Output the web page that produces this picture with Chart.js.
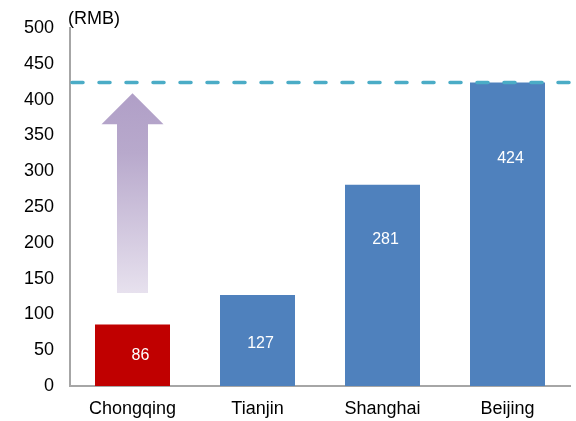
<!DOCTYPE html>
<html>
<head>
<meta charset="utf-8">
<script src="https://cdn.jsdelivr.net/npm/chart.js@4/dist/chart.umd.min.js"></script>
<style>
  html, body { margin: 0; padding: 0; background: #fff; overflow: hidden; }
  canvas { display: block; }
</style>
</head>
<body>
<canvas id="c" width="576" height="421"></canvas>
<script>
const cities = ['Chongqing', 'Tianjin', 'Shanghai', 'Beijing'];
const wages = [86, 127, 281, 424];
const barColors = ['#c00000', '#4f81bd', '#4f81bd', '#4f81bd'];
const yTicks = [0, 50, 100, 150, 200, 250, 300, 350, 400, 450, 500];
const targetLevel = 424;          // dashed reference line
const arrowRange = [130, 409];    // arrow from base to tip (RMB)
const unitLabel = '(RMB)';

const FONT = '"Liberation Sans", Arial, sans-serif';

// value labels, drawn inside each bar in white
const labelPlugin = {
  id: 'barLabels',
  afterDatasetsDraw(chart) {
    const ctx = chart.ctx;
    const meta = chart.getDatasetMeta(0);
    const y = chart.scales.y;
    const frac = [0.50, 0.47, 0.73, 0.75];
    ctx.save();
    ctx.fillStyle = '#ffffff';
    ctx.font = '16px ' + FONT;
    ctx.textAlign = 'center';
    ctx.textBaseline = 'middle';
    meta.data.forEach((bar, i) => {
      const v = wages[i];
      ctx.fillText(String(v), bar.x + (i === 0 ? 8 : 3), y.getPixelForValue(v * frac[i]));
    });
    ctx.restore();
  }
};

// dashed target line, growth arrow and unit caption
const decorPlugin = {
  id: 'decor',
  afterDraw(chart) {
    const ctx = chart.ctx;
    const { left, right } = chart.chartArea;
    const y = chart.scales.y;
    const x = chart.scales.x;

    // dashed line
    const ly = y.getPixelForValue(targetLevel);
    ctx.save();
    ctx.strokeStyle = '#4bacc6';
    ctx.lineWidth = 3.5;
    ctx.lineCap = 'round';
    ctx.setLineDash([11, 16]);
    ctx.beginPath();
    ctx.moveTo(left + 2, ly);
    ctx.lineTo(right, ly);
    ctx.stroke();
    ctx.restore();

    // arrow above the first bar
    const cx = x.getPixelForValue(0);
    const yb = y.getPixelForValue(arrowRange[0]);
    const yt = y.getPixelForValue(arrowRange[1]);
    const headH = 31, headHalf = 31, shaftHalf = 15.5;
    const g = ctx.createLinearGradient(0, yt, 0, yb);
    g.addColorStop(0, '#b09fc7');
    g.addColorStop(0.3, '#b8a9cc');
    g.addColorStop(1, '#e7e1ee');
    ctx.save();
    ctx.fillStyle = g;
    ctx.beginPath();
    ctx.moveTo(cx, yt);
    ctx.lineTo(cx + headHalf, yt + headH);
    ctx.lineTo(cx + shaftHalf, yt + headH);
    ctx.lineTo(cx + shaftHalf, yb);
    ctx.lineTo(cx - shaftHalf, yb);
    ctx.lineTo(cx - shaftHalf, yt + headH);
    ctx.lineTo(cx - headHalf, yt + headH);
    ctx.closePath();
    ctx.fill();
    ctx.restore();

    // unit caption
    ctx.save();
    ctx.fillStyle = '#000';
    ctx.font = '18px ' + FONT;
    ctx.textAlign = 'left';
    ctx.textBaseline = 'middle';
    ctx.fillText(unitLabel, left - 2, 19);
    ctx.restore();
  }
};

new Chart(document.getElementById('c'), {
  type: 'bar',
  data: {
    labels: cities,
    datasets: [{
      data: wages,
      backgroundColor: barColors,
      borderWidth: 0,
      categoryPercentage: 1.0,
      barPercentage: 0.6
    }]
  },
  options: {
    responsive: false,
    animation: false,
    devicePixelRatio: 1,
    layout: { padding: { top: 28, right: 6, left: 0, bottom: 0 } },
    plugins: { legend: { display: false }, tooltip: { enabled: false } },
    scales: {
      x: {
        grid: { display: false, drawTicks: false },
        border: { display: true, color: '#a6a6a6', width: 2 },
        ticks: { color: '#000', font: { size: 18, family: FONT }, padding: 12,
                 autoSkip: false, maxRotation: 0, minRotation: 0 },
        afterFit(s) { s.height = 35; }
      },
      y: {
        min: 0, max: 500,
        afterBuildTicks(s) { s.ticks = yTicks.map(v => ({ value: v })); },
        grid: { display: false, drawTicks: false },
        border: { display: true, color: '#a6a6a6', width: 2 },
        ticks: { color: '#000', font: { size: 18, family: FONT }, padding: 16, autoSkip: false },
        afterFit(s) { s.width = 70; }
      }
    }
  },
  plugins: [labelPlugin, decorPlugin]
});
</script>
</body>
</html>
